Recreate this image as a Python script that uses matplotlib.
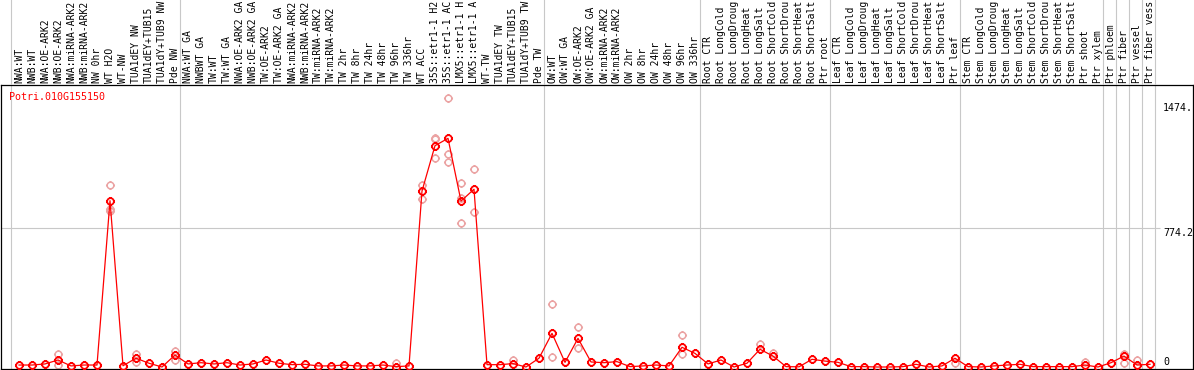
import matplotlib
matplotlib.use("Agg")
import matplotlib.pyplot as plt
from matplotlib.path import Path
import numpy as np

labels = ["NWA:WT", "NWB:WT", "NWA:OE-ARK2", "NWB:OE-ARK2", "NWA:miRNA-ARK2",
          "NWB:miRNA-ARK2", "NW 0hr", "WT H2O", "WT-NW", "TUA1dEY NW",
          "TUA1dEY+TUB15", "TUA1dY+TUB9 NW", "Pde NW", "NWA:WT GA", "NWBWT GA",
          "TW:WT", "TW:WT GA", "NWA:OE-ARK2 GA", "NWB:OE-ARK2 GA", "TW:OE-ARK2",
          "TW:OE-ARK2 GA", "NWA:miRNA-ARK2", "NWB:miRNA-ARK2", "TW:miRNA-ARK2",
          "TW:miRNA-ARK2", "TW 2hr", "TW 8hr", "TW 24hr", "TW 48hr", "TW 96hr",
          "TW 336hr", "WT ACC", "35S::etr1-1 H2", "35S::etr1-1 AC",
          "LMX5::etr1-1 H", "LMX5::etr1-1 A", "WT-TW", "TUA1dEY TW",
          "TUA1dEY+TUB15", "TUA1dY+TUB9 TW", "Pde TW", "OW:WT", "OW:WT GA",
          "OW:OE-ARK2", "OW:OE-ARK2 GA", "OW:miRNA-ARK2", "OW:miRNA-ARK2",
          "OW 2hr", "OW 8hr", "OW 24hr", "OW 48hr", "OW 96hr", "OW 336hr",
          "Root CTR", "Root LongCold", "Root LongDroug", "Root LongHeat",
          "Root LongSalt", "Root ShortCold", "Root ShortDrou", "Root ShortHeat",
          "Root ShortSalt", "Ptr root", "Leaf CTR", "Leaf LongCold",
          "Leaf LongDroug", "Leaf LongHeat", "Leaf LongSalt", "Leaf ShortCold",
          "Leaf ShortDrou", "Leaf ShortHeat", "Leaf ShortSalt", "Ptr leaf",
          "Stem CTR", "Stem LongCold", "Stem LongDroug", "Stem LongHeat",
          "Stem LongSalt", "Stem ShortCold", "Stem ShortDrou", "Stem ShortHeat",
          "Stem ShortSalt", "Ptr shoot", "Ptr xylem", "Ptr phloem", "Ptr fiber",
          "Ptr vessel", "Ptr fiber vess"]

means = [11, 11, 17, 39, 6, 11, 11, 928, 7, 49, 21, 0, 67, 17, 24, 17, 24, 11,
         17, 39, 21, 13, 15, 6, 6, 11, 6, 6, 11, 2, 6, 982, 1235, 1276, 926, 992,
         13, 13, 19, 0, 49, 188, 26, 160, 28, 24, 30, 2, 6, 11, 6, 110, 76, 17,
         39, 0, 21, 99, 61, 2, 1, 43, 33, 26, 2, 2, 0, 0, 2, 15, 0, 6, 49, 2, 0,
         6, 11, 15, 2, 2, 2, 2, 11, 0, 24, 61, 11, 15]

# replicate samples that sit away from the mean
rep_idx = [3, 3, 7, 7, 7, 9, 9, 12, 12, 29, 31, 31, 32, 32, 32, 33, 33, 33,
           34, 34, 34, 35, 35, 38, 41, 41, 43, 43, 51, 51, 57, 58, 72, 82,
           85, 85, 86]
rep_vals = [71, 11, 1016, 882, 872, 72, 30, 91, 39, 21, 1016, 936, 1276, 1168,
            1270, 1500, 1188, 1144, 1025, 945, 802, 1105, 867, 39, 352, 54,
            221, 104, 179, 73, 127, 80, 21, 30, 73, 24, 39]

group_starts = [0, 13, 41, 53, 63, 73, 84, 85, 86, 87, 88]
ytick_vals = [0, 774.2, 1474]
ytick_text = ["0", "774.2", "1474."]
gene = "Potri.010G155150"

x = np.arange(len(means))

# circle with four small ticks
circ = Path.unit_circle()
ticks = Path([(0, 1), (0, 1.35), (0, -1), (0, -1.35),
              (1, 0), (1.35, 0), (-1, 0), (-1.35, 0)],
             [Path.MOVETO, Path.LINETO] * 4)
sun = Path.make_compound_path(circ, ticks)

plt.rcParams['font.family'] = "DejaVu Sans Mono"

fig = plt.figure(figsize=(11.94, 3.70), dpi=100)
W, H = 1194.0, 370.0
xl = ((1 - 19) / 13.0, (1193 - 19) / 13.0)

ax = fig.add_axes([1 / W, 1 / H, 1192 / W, 284 / H])
hx = fig.add_axes([1 / W, 285 / H, 1192 / W, 85 / H], sharex=ax)

grey = "#c8c8c8"
for b in group_starts:
    ax.axvline(b - 0.6, color=grey, lw=0.8, zorder=1)
    hx.axvline(b - 0.6, color=grey, lw=0.8, zorder=1)

ax.hlines(ytick_vals[1], xl[0], (1160 - 19) / 13.0, color=grey, lw=0.8, zorder=1)

ax.plot(rep_idx, rep_vals, linestyle="none", marker=sun, markersize=6.5,
        markerfacecolor="none", markeredgecolor="#eba3a3", markeredgewidth=1.1,
        zorder=2)
ax.plot(x, means, color="red", lw=0.9, zorder=3)
ax.plot(x, means, linestyle="none", marker=sun, markersize=6.5,
        markerfacecolor="none", markeredgecolor="red", markeredgewidth=1.3,
        zorder=4)

ax.set_xlim(*xl)
ax.set_ylim(-(369 - 367) / 0.1792, (367 - 85) / 0.1792)
ax.set_xticks([])
ax.set_yticks([])
for s in ax.spines.values():
    s.set_color("black")
    s.set_linewidth(0.9)

for v, t in zip(ytick_vals, ytick_text):
    va = "bottom" if v == 0 else "top"
    ax.text(88.0, v, t, ha="left", va=va, fontsize=7.2, color="black")

ax.text(8 / 1192.0, (369 - 97) / 284.0, gene, transform=ax.transAxes,
        color="red", fontsize=7.2, ha="left", va="center")

hx.set_ylim(0, 1)
hx.axis("off")
for i, lab in enumerate(labels):
    hx.text(i, 0.02, lab, rotation=90, ha="center", va="bottom",
            fontsize=7, color="black", clip_on=False)

fig.savefig("out.png", dpi=100)
